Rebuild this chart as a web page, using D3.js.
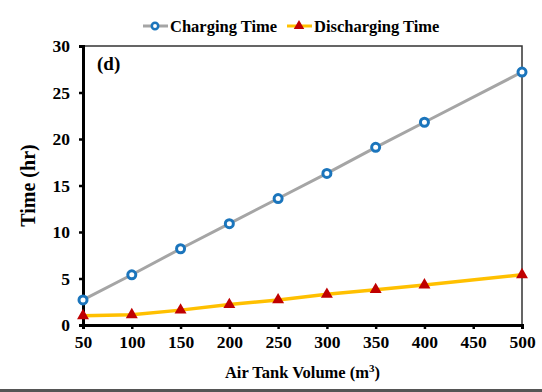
<!DOCTYPE html>
<html>
<head>
<meta charset="utf-8">
<script src="https://cdn.jsdelivr.net/npm/d3@7"></script>
<style>
  body { margin: 0; background: #fff; }
  svg { display: block; font-family: "Liberation Serif", "Times New Roman", serif; font-weight: bold; }
  svg text { font-family: "Liberation Serif", "Times New Roman", serif !important; font-weight: bold; }
</style>
</head>
<body>
<svg id="chart"></svg>
<script>
// data
const volumes = [50, 100, 150, 200, 250, 300, 350, 400, 500];
const chargingTime = [2.7, 5.4, 8.2, 10.9, 13.6, 16.3, 19.1, 21.8, 27.2];
const dischargingTime = [1.0, 1.1, 1.6, 2.2, 2.7, 3.3, 3.8, 4.3, 5.4];
const xTicks = [50, 100, 150, 200, 250, 300, 350, 400, 450, 500];
const yTicks = [0, 5, 10, 15, 20, 25, 30];

const width = 542;
const height = 392;
const margin = { top: 46, right: 20, bottom: 67, left: 83 };
const svg = d3.select('#chart').attr('width', width).attr('height', height);

const x = d3.scaleLinear().domain([50, 500]).range([margin.left, width - margin.right]);
const y = d3.scaleLinear().domain([0, 30]).range([height - margin.bottom, margin.top]);

// frame (top + right thin)
svg.append('path')
  .attr('d', `M${x(50)},${y(30)}H${x(500)}V${y(0)}`)
  .attr('fill', 'none')
  .attr('stroke', '#333')
  .attr('stroke-width', 1.5);

// axes
const xAxis = svg.append('g')
  .attr('transform', `translate(0,${y(0)})`)
  .call(d3.axisBottom(x).tickValues(xTicks).tickSize(4).tickPadding(7));
const yAxis = svg.append('g')
  .attr('transform', `translate(${x(50)},0)`)
  .call(d3.axisLeft(y).tickValues(yTicks).tickSize(4).tickPadding(9));

[xAxis, yAxis].forEach((g) => {
  g.attr('font-family', null);
  g.select('.domain').attr('stroke', '#000').attr('stroke-width', 3);
  g.selectAll('.tick line').attr('stroke', '#000').attr('stroke-width', 2.5);
  g.selectAll('.tick text')
    .style('font-size', '17.5px')
    .attr('fill', '#000');
});

// axis titles
svg.append('text')
  .attr('x', (x(50) + x(500)) / 2)
  .attr('y', 378)
  .attr('text-anchor', 'middle')
  .attr('font-size', 16.5)
  .html('Air Tank Volume (m<tspan dy="-6" font-size="11">3</tspan><tspan dy="6">)</tspan>');

svg.append('text')
  .attr('transform', `translate(35,${(y(0) + y(30)) / 2}) rotate(-90)`)
  .attr('text-anchor', 'middle')
  .attr('font-size', 20)
  .text('Time (hr)');

svg.append('text')
  .attr('x', 97)
  .attr('y', 70)
  .attr('font-size', 19)
  .text('(d)');

// lines
const charging = volumes.map((v, i) => ({ v, t: chargingTime[i] }));
const discharging = volumes.map((v, i) => ({ v, t: dischargingTime[i] }));
const line = d3.line().x((d) => x(d.v)).y((d) => y(d.t));

svg.append('path')
  .datum(charging)
  .attr('d', line)
  .attr('fill', 'none')
  .attr('stroke', '#A5A5A5')
  .attr('stroke-width', 3);

svg.append('path')
  .datum(discharging)
  .attr('d', line)
  .attr('fill', 'none')
  .attr('stroke', '#FFC000')
  .attr('stroke-width', 3.5);

const tri = d3.symbol().type(d3.symbolTriangle).size(62);

svg.append('g')
  .selectAll('path')
  .data(discharging)
  .enter()
  .append('path')
  .attr('d', tri)
  .attr('transform', (d) => `translate(${x(d.v)},${y(d.t)})`)
  .attr('fill', '#C00000');

svg.append('g')
  .selectAll('circle')
  .data(charging)
  .enter()
  .append('circle')
  .attr('cx', (d) => x(d.v))
  .attr('cy', (d) => y(d.t))
  .attr('r', 4)
  .attr('fill', '#fff')
  .attr('stroke', '#1B75BC')
  .attr('stroke-width', 3);

// legend
const legend = svg.append('g').attr('transform', 'translate(0,26)');
const items = [
  { label: 'Charging Time', x0: 143, line: '#A5A5A5', mark: 'circle' },
  { label: 'Discharging Time', x0: 287, line: '#FFC000', mark: 'tri' },
];
items.forEach((it) => {
  legend.append('line')
    .attr('x1', it.x0).attr('x2', it.x0 + 25)
    .attr('y1', 0).attr('y2', 0)
    .attr('stroke', it.line).attr('stroke-width', 3);
  if (it.mark === 'circle') {
    legend.append('circle')
      .attr('cx', it.x0 + 12).attr('cy', 0).attr('r', 3.2)
      .attr('fill', '#fff').attr('stroke', '#1B75BC').attr('stroke-width', 2.5);
  } else {
    legend.append('path')
      .attr('d', d3.symbol().type(d3.symbolTriangle).size(48))
      .attr('transform', `translate(${it.x0 + 12},0)`)
      .attr('fill', '#C00000');
  }
  legend.append('text')
    .attr('x', it.x0 + 27)
    .attr('y', 6)
    .attr('font-size', 16.5)
    .text(it.label);
});

// bottom border strip
svg.append('rect')
  .attr('x', 0).attr('y', 389)
  .attr('width', width).attr('height', 3)
  .attr('fill', '#555');
</script>
</body>
</html>
